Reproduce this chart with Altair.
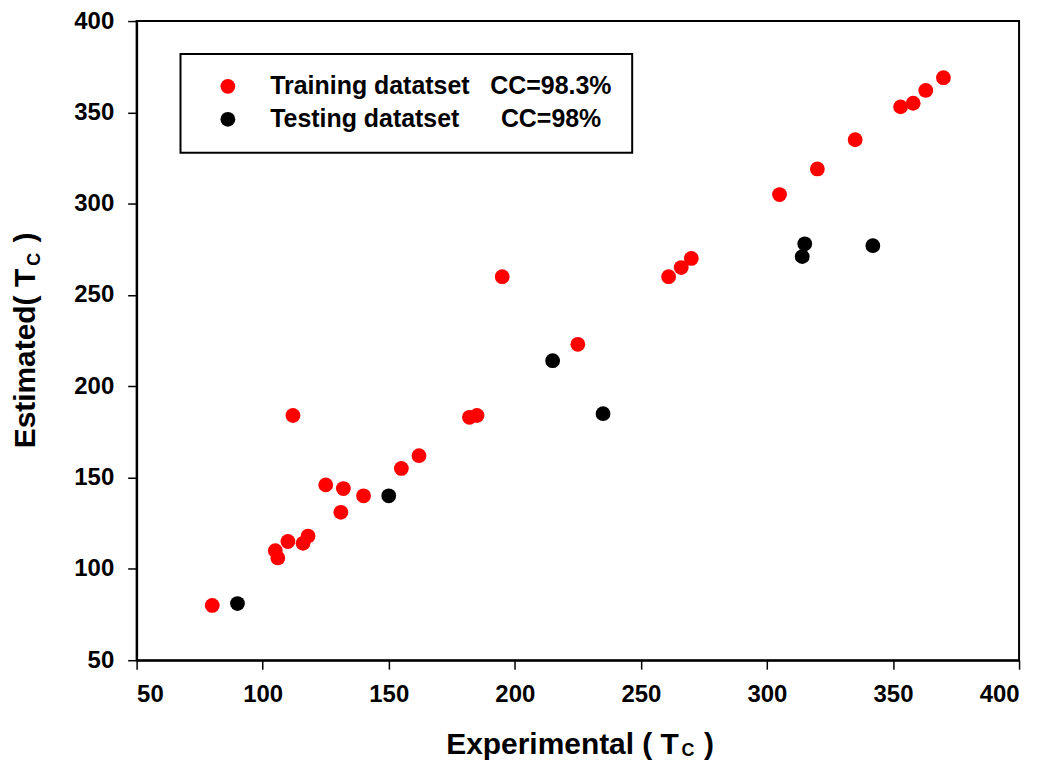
import altair as alt
import pandas as pd

# Data
train_x = [80, 112, 105, 106, 110, 116, 118, 125, 131, 132, 140, 155, 162, 182, 185,
           195, 225, 261, 266, 270, 305, 320, 335, 353, 358, 363, 370]
train_y = [80, 184, 110, 106, 115, 114, 118, 146, 131, 144, 140, 155, 162, 183, 184,
           260, 223, 260, 265, 270, 305, 319, 335, 353, 355, 362, 369]
test_x = [90, 150, 215, 235, 314, 315, 342]
test_y = [81, 140, 214, 185, 271, 278, 277]

NB = "\u00a0"
series_names = [
    "Training datatset" + NB * 3 + "CC=98.3%",
    "Testing datatset" + NB * 6 + "CC=98%",
]
series_colors = ["#ff0000", "#000000"]
ticks = [50, 100, 150, 200, 250, 300, 350, 400]

df = pd.concat([
    pd.DataFrame({"x": train_x, "y": train_y, "set": series_names[0]}),
    pd.DataFrame({"x": test_x, "y": test_y, "set": series_names[1]}),
])

FONT = "Liberation Sans"

points = alt.Chart(df).mark_circle(size=220, opacity=1).encode(
    x=alt.X("x:Q", scale=alt.Scale(domain=[50, 400], nice=False),
            axis=alt.Axis(values=ticks, title="Experimental ( T",
                          titleX=310, titleY=94, titleAlign="left",
                          titleBaseline="alphabetic")),
    y=alt.Y("y:Q", scale=alt.Scale(domain=[50, 400], nice=False),
            axis=alt.Axis(values=ticks, title="Estimated( T",
                          titleX=-102, titleY=428, titleAngle=270,
                          titleBaseline="alphabetic", titleAlign="left")),
    color=alt.Color("set:N", scale=alt.Scale(domain=series_names, range=series_colors),
                    legend=alt.Legend(title=None, orient="none", legendX=44, legendY=33,
                                      strokeColor="black", padding=20,
                                      symbolSize=220, symbolType="circle",
                                      symbolStrokeWidth=0, symbolOffset=15,
                                      labelFont=FONT, labelFontWeight="bold",
                                      labelFontSize=25, labelColor="black",
                                      labelLimit=700, labelOffset=30, rowPadding=7)),
)

sub_df = pd.DataFrame({"t": ["C"]})
par_df = pd.DataFrame({"t": [")"]})
sub_x = alt.Chart(sub_df).mark_text(font=FONT, fontWeight="bold", fontSize=18,
                                    baseline="alphabetic", align="center", color="black").encode(
    text="t:N", x=alt.value(553), y=alt.value(737))
par_x = alt.Chart(par_df).mark_text(font=FONT, fontWeight="bold", fontSize=30,
                                    baseline="alphabetic", align="left", color="black").encode(
    text="t:N", x=alt.value(569), y=alt.value(735))
sub_y = alt.Chart(sub_df).mark_text(font=FONT, fontWeight="bold", fontSize=18, angle=270,
                                    baseline="alphabetic", align="center", color="black").encode(
    text="t:N", x=alt.value(-97), y=alt.value(239))
par_y = alt.Chart(par_df).mark_text(font=FONT, fontWeight="bold", fontSize=30, angle=270,
                                    baseline="alphabetic", align="left", color="black").encode(
    text="t:N", x=alt.value(-102), y=alt.value(222))

chart = alt.layer(points, sub_x, par_x, sub_y, par_y).properties(
    width=885, height=641,
    autosize=alt.AutoSizeParams(type="none"),
    padding={"left": 129, "top": 12, "right": 20, "bottom": 101},
).configure_view(stroke="black", strokeWidth=2).configure_axis(
    domainColor="black", domainWidth=2, tickColor="black", tickWidth=1.5, tickSize=9,
    grid=False, labelFont=FONT, labelFontWeight="bold", labelFontSize=24,
    labelColor="black", titleFont=FONT, titleFontWeight="bold", titleFontSize=30,
    titleColor="black",
).configure_axisX(labelPadding=13).configure_axisY(labelPadding=14).configure_legend(
    strokeWidth=2)

chart.save("out.html", embed_options={"renderer": "svg", "actions": False})
